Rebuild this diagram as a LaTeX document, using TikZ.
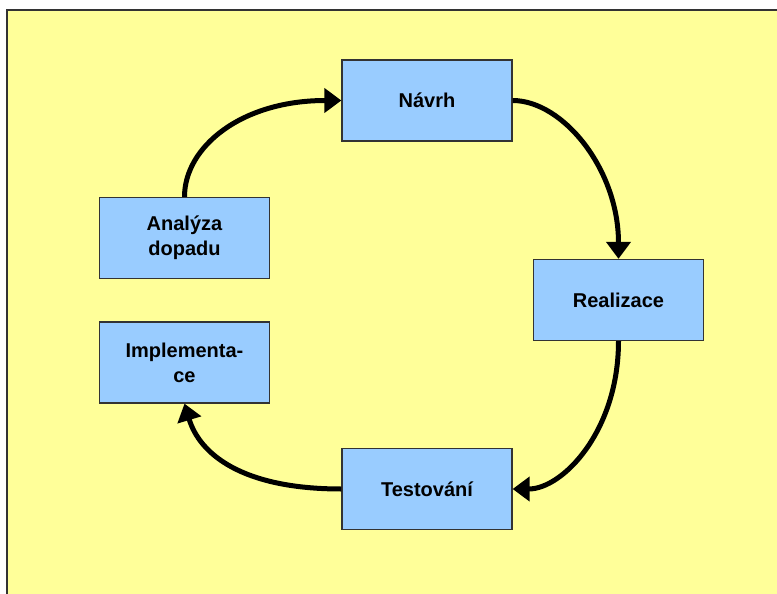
\documentclass[tikz,border=0pt]{standalone}
\usepackage{fontspec}
\setmainfont{Liberation Sans}
\usetikzlibrary{arrows.meta}
\definecolor{bgyellow}{HTML}{FFFF99}
\definecolor{boxblue}{HTML}{99CCFF}
\definecolor{edgegray}{HTML}{333333}
\begin{document}
\begin{tikzpicture}[x=1pt,y=-1pt,
  stepbox/.style={draw=edgegray,line width=1.3pt,fill=boxblue,minimum width=170pt,minimum height=81pt,
    inner sep=2pt,align=center,font=\fontsize{20}{25}\selectfont\bfseries},
  flow/.style={line width=5pt,-{Triangle[width=24pt,length=17pt]}}]
\useasboundingbox (0,0) rectangle (777,594);
\fill[white] (0,0) rectangle (777,594);
\fill[bgyellow] (7,10) rectangle (777,594);
\draw[line width=2pt,edgegray] (7,594) -- (7,10) -- (777,10);
\node[stepbox] (nav) at (427,100.5) {Návrh};
\node[stepbox] (ana) at (184.5,238) {Analýza\\dopadu};
\node[stepbox] (imp) at (184.5,362.5) {Implementa-\\ce};
\node[stepbox] (tes) at (427,489) {Testování};
\node[stepbox] (rea) at (618.5,300) {Realizace};
\draw[flow] (ana.north) .. controls +(0,-50) and +(-100,0) .. (nav.west);
\draw[flow] (nav.east) .. controls +(50,0) and +(0,-90) .. (rea.north);
\draw[flow] (rea.south) .. controls +(0,90) and +(50,0) .. (tes.east);
\draw[flow] (tes.west) .. controls +(-100,0) and +(15,50) .. (imp.south);
\end{tikzpicture}
\end{document}
